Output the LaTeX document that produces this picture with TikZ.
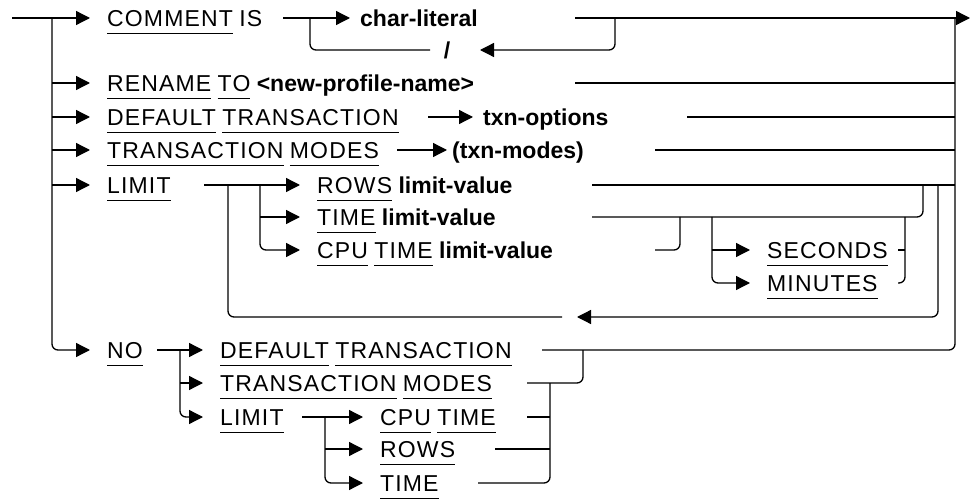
\documentclass[tikz,border=0pt]{standalone}
\usepackage{fontspec}
\setmainfont{Liberation Sans}
\newfontfamily\kwfont{Liberation Sans}[LetterSpace=5]
\usetikzlibrary{arrows.meta}

\newcommand{\kw}[1]{{\kwfont\setbox0=\hbox{#1}\rlap{\rule[-8pt]{\wd0}{1.2pt}}\box0}}

\tikzset{
	rr/.style={line width=1.3pt, rounded corners=6pt},
	go/.style={rr, -{Triangle[length=14pt,width=14pt]}},
	kwnode/.style={anchor=west, inner xsep=17pt, inner ysep=0pt, text height=16.5pt, text depth=0pt, font=\fontsize{23}{25}\selectfont},
	litnode/.style={kwnode, inner xsep=10pt, font=\fontsize{23}{25}\selectfont\bfseries},
}

\begin{document}
\begin{tikzpicture}[x=1pt,y=-1pt]
\useasboundingbox (0,0) rectangle (970,500);

% COMMENT IS
		\coordinate (start) at (12,18);
		\coordinate (lbus) at (52,18);
		\node[kwnode] (comment) at (90,18) {\kw{COMMENT} {\kwfont IS}};
		\coordinate (cmtout) at (283,18);
		\coordinate (cloopl) at (310,18);
		\node[litnode] (charlit) at (350,18) {char-literal};
		\coordinate (charout) at (575,18);
		\coordinate (cloopr) at (615,18);
		\coordinate (rbus) at (955,18);
		\coordinate (finish) at (970,18);
		\node[litnode, anchor=center, inner xsep=0pt] (slash) at (447,50) {/};
		\coordinate (slashin) at (480,50);
		\coordinate (slashout) at (430,50);

\draw[rr] (start) -- (lbus);
\draw[go] (lbus) -- (comment.west);
\draw[rr] (cmtout) -- (cloopl);
\draw[go] (cloopl) -- (charlit.west);
\draw[rr] (charout) -- (rbus);
\draw[go] (rbus) -- (finish);
\draw[go] (cloopr) |- (slashin);
\draw[rr] (slashout) -| (cloopl);

% RENAME, DEFAULT TRANSACTION, TRANSACTION MODES
		\node[kwnode] (rename) at (90,83) {\kw{RENAME} \kw{TO} \textbf{<new-profile-name>}};
		\coordinate (renout) at (575,83);
		\node[kwnode] (deftxn) at (90,117) {\kw{DEFAULT} \kw{TRANSACTION}};
		\coordinate (deftxnout) at (428,117);
		\node[litnode] (txnopt) at (473,117) {txn-options};
		\coordinate (txnoptout) at (687,117);
		\node[kwnode] (txnmodes) at (90,150) {\kw{TRANSACTION} \kw{MODES}};
		\coordinate (txnmodesout) at (397,150);
		\node[litnode, inner xsep=5pt] (modes) at (447,150) {(txn-modes)};
		\coordinate (modesout) at (655,150);

\draw[go] (lbus |- rename.west) -- (rename.west);
\draw[go] (lbus |- deftxn.west) -- (deftxn.west);
\draw[go] (lbus |- txnmodes.west) -- (txnmodes.west);
\draw[rr] (renout) -- (rbus |- renout);
\draw[go] (deftxnout) -- (txnopt.west);
\draw[rr] (txnoptout) -- (rbus |- txnoptout);
\draw[go] (txnmodesout) -- (modes.west);
\draw[rr] (modesout) -- (rbus |- modesout);

% LIMIT
		\node[kwnode] (limit) at (90,185) {\kw{LIMIT}};
		\coordinate (limitout) at (204,185);
		\coordinate (limloop) at (228,185);
		\coordinate (limsplit) at (260,185);
		\node[kwnode] (rows) at (300,185) {\kw{ROWS} \textbf{limit-value}};
		\node[kwnode] (time) at (300,217) {\kw{TIME} \textbf{limit-value}};
		\node[kwnode] (cpu) at (300,250) {\kw{CPU} \kw{TIME} \textbf{limit-value}};
		\coordinate (rowsout) at (592,185);
		\coordinate (timeout) at (592,217);
		\coordinate (cpuout) at (655,250);
		\coordinate (cpujoin) at (680,217);
		\coordinate (unitsplit) at (712,217);
		\node[kwnode] (seconds) at (750,250) {\kw{SECONDS}};
		\node[kwnode] (minutes) at (750,283) {\kw{MINUTES}};
		\coordinate (secout) at (898,250);
		\coordinate (minout) at (898,283);
		\coordinate (unitjoin) at (905,217);
		\coordinate (timejoin) at (923,185);
		\coordinate (limback) at (938,185);
		\coordinate (backtip) at (577,317);
		\coordinate (backtail) at (562,317);

\draw[go] (lbus |- limit.west) -- (limit.west);
\draw[rr] (limitout) -- (limsplit);
\draw[go] (limsplit) -- (rows.west);
\draw[go] (limsplit |- time.west) -- (time.west);
\draw[go] (limsplit) |- (cpu.west);
\draw[rr] (rowsout) -- (rbus |- rowsout);
\draw[rr] (timeout) -| (timejoin);
\draw[rr] (cpuout) -| (cpujoin);
\draw[go] (unitsplit |- seconds.west) -- (seconds.west);
\draw[go] (unitsplit) |- (minutes.west);
\draw[rr] (secout) -- (unitjoin |- secout);
\draw[rr] (minout) -| (unitjoin);
\draw[go] (limback) |- (backtip);
\draw[rr] (backtail) -| (limloop);

% NO
		\node[kwnode] (no) at (90,350) {\kw{NO}};
		\coordinate (noout) at (157,350);
		\coordinate (nosplit) at (180,350);
		\node[kwnode] (nodef) at (203,350) {\kw{DEFAULT} \kw{TRANSACTION}};
		\node[kwnode] (nomodes) at (203,383) {\kw{TRANSACTION} \kw{MODES}};
		\node[kwnode] (nolimit) at (203,417) {\kw{LIMIT}};
		\coordinate (nodefout) at (542,350);
		\coordinate (nomodesout) at (527,383);
		\coordinate (nomodesjoin) at (583,350);
		\coordinate (nolimout) at (302,417);
		\coordinate (nolimsplit) at (325,417);
		\node[kwnode] (nocpu) at (363,417) {\kw{CPU} \kw{TIME}};
		\node[kwnode] (norows) at (363,449) {\kw{ROWS}};
		\node[kwnode] (notime) at (363,483) {\kw{TIME}};
		\coordinate (nocpuout) at (527,417);
		\coordinate (norowsout) at (495,449);
		\coordinate (notimeout) at (478,483);
		\coordinate (nolimjoin) at (550,383);

\draw[go] (lbus) |- (no.west);
\draw[rr] (noout) -- (nosplit);
\draw[go] (nosplit) -- (nodef.west);
\draw[go] (nosplit |- nomodes.west) -- (nomodes.west);
\draw[go] (nosplit) |- (nolimit.west);
\draw[rr] (nodefout) -| (rbus);
\draw[rr] (nomodesout) -| (nomodesjoin);
\draw[rr] (nolimout) -- (nolimsplit);
\draw[go] (nolimsplit) -- (nocpu.west);
\draw[go] (nolimsplit |- norows.west) -- (norows.west);
\draw[go] (nolimsplit) |- (notime.west);
\draw[rr] (nocpuout) -- (nolimjoin |- nocpuout);
\draw[rr] (norowsout) -- (nolimjoin |- norowsout);
\draw[rr] (notimeout) -| (nolimjoin);
\end{tikzpicture}
\end{document}
